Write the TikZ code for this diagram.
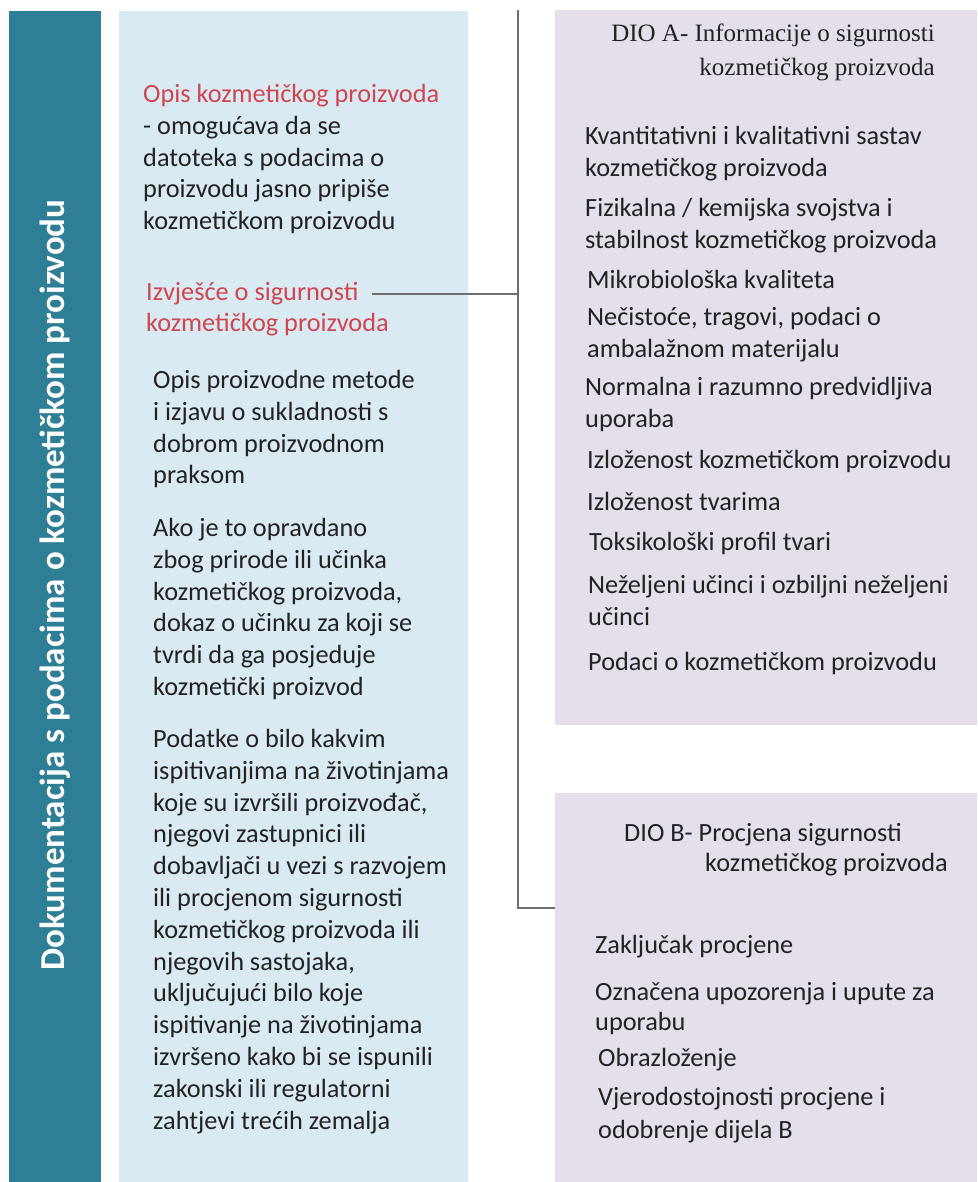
\documentclass[tikz,border=0pt]{standalone}
\usepackage{fontspec}
\setmainfont{Carlito}
\newfontfamily\serifhead{Liberation Serif}

\definecolor{docteal}{HTML}{2E7E96}
\definecolor{panelblue}{HTML}{DAEAF2}
\definecolor{panellilac}{HTML}{E5DEEB}
\definecolor{titlered}{HTML}{D0454F}
\definecolor{busgray}{HTML}{6E6E6E}
\definecolor{inkblack}{HTML}{222222}

\begin{document}
\begin{tikzpicture}[x=1pt, y=-1pt,
  panel/.style={anchor=north west, inner sep=0pt, outer sep=0pt, draw=none},
  txt/.style={anchor=north west, inner sep=0pt, align=left, text=inkblack,
    font=\fontsize{26.3}{31.8}\selectfont},
  redtxt/.style={txt, text=titlered},
  bus/.style={draw=busgray, line width=2pt}]

\useasboundingbox (0,0) rectangle (977,1182);

% background panels
\node[panel, fill=docteal, minimum width=92pt, minimum height=1171pt] (bar) at (9,11) {};
\node[panel, fill=panelblue, minimum width=349pt, minimum height=1171pt] (left) at (119,11) {};
\node[panel, fill=panellilac, minimum width=422pt, minimum height=715pt] (boxA) at (555,10) {};
\node[panel, fill=panellilac, minimum width=422pt, minimum height=389pt] (boxB) at (555,793) {};

% vertical title
\node[rotate=90, text=white, font=\fontsize{35}{40}\selectfont\bfseries] (title) at (bar.center |- 0,585) {Dokumentacija s podacima o kozmetičkom proizvodu};

% left column
\node[txt] (opis) at (143,84) {\textcolor{titlered}{Opis kozmetičkog proizvoda}\\- omogućava da se\\datoteka s podacima o\\proizvodu jasno pripiše\\kozmetičkom proizvodu};

\node[redtxt] (izvj) at (146,282) {Izvješće o sigurnosti};
\node[redtxt] (izvj2) at (146,313) {kozmetičkog proizvoda};

\node[txt] (metoda) at (153,370) {Opis proizvodne metode\\i izjavu o sukladnosti s\\dobrom proizvodnom\\praksom};
\node[txt] (ucinak) at (153,518) {Ako je to opravdano\\zbog prirode ili učinka\\kozmetičkog proizvoda,\\dokaz o učinku za koji se\\tvrdi da ga posjeduje\\kozmetički proizvod};
\node[txt] (zivotinje) at (153,729) {Podatke o bilo kakvim\\ispitivanjima na životinjama\\koje su izvršili proizvođač,\\njegovi zastupnici ili\\dobavljači u vezi s razvojem\\ili procjenom sigurnosti\\kozmetičkog proizvoda ili\\njegovih sastojaka,\\uključujući bilo koje\\ispitivanje na životinjama\\izvršeno kako bi se ispunili\\zakonski ili regulatorni\\zahtjevi trećih zemalja};

% DIO A
\node[txt, anchor=north east, align=right, font=\serifhead\fontsize{25}{34}\selectfont] (dioA) at (935,24) {DIO A- Informacije o sigurnosti\\kozmetičkog proizvoda};
\node[txt] (a1) at (585,126) {Kvantitativni i kvalitativni sastav\\kozmetičkog proizvoda};
\node[txt] (a2) at (585,198) {Fizikalna / kemijska svojstva i\\stabilnost kozmetičkog proizvoda};
\node[txt] (a3) at (587,270) {Mikrobiološka kvaliteta};
\node[txt] (a4) at (587,307) {Nečistoće, tragovi, podaci o\\ambalažnom materijalu};
\node[txt] (a5) at (585,377) {Normalna i razumno predvidljiva\\uporaba};
\node[txt] (a6) at (587,450) {Izloženost kozmetičkom proizvodu};
\node[txt] (a7) at (587,492) {Izloženost tvarima};
\node[txt] (a8) at (589,532) {Toksikološki profil tvari};
\node[txt] (a9) at (588,575) {Neželjeni učinci i ozbiljni neželjeni\\učinci};
\node[txt] (a10) at (588,652) {Podaci o kozmetičkom proizvodu};

% DIO B
\node[txt, font=\fontsize{26.3}{30}\selectfont] (dioB) at (624,823) {DIO B- Procjena sigurnosti\\\hspace*{81pt}kozmetičkog proizvoda};
\node[txt] (b1) at (595,935) {Zaključak procjene};
\node[txt, font=\fontsize{26.3}{30}\selectfont] (b2) at (595,982) {Označena upozorenja i upute za\\uporabu};
\node[txt] (b3) at (598,1048) {Obrazloženje};
\node[txt, font=\fontsize{26.3}{33}\selectfont] (b4) at (598,1087) {Vjerodostojnosti procjene i\\odobrenje dijela B};

% connector
\coordinate (busTop) at (518,10);
\coordinate (busBot) at (518,908);
\draw[bus] ([xshift=13pt]izvj.east) -- (izvj.east -| busTop);
\draw[bus] (busTop) -- (busBot) -- (busBot -| boxB.west);

\end{tikzpicture}
\end{document}
